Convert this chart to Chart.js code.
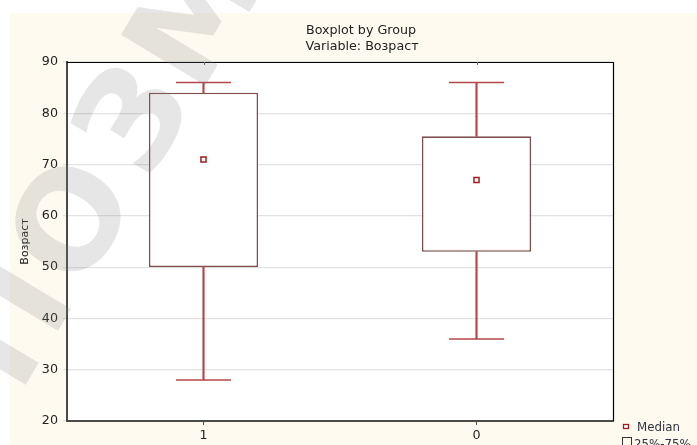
<!DOCTYPE html>
<html>
<head>
<meta charset="utf-8">
<script src="https://cdn.jsdelivr.net/npm/chart.js@4/dist/chart.umd.min.js"></script>
<style>
  html, body { margin: 0; padding: 0; background: #ffffff; }
  #wrap { width: 697px; height: 445px; }
</style>
</head>
<body>
<div id="wrap"><canvas id="chart" width="697" height="445"></canvas></div>
<script>
// Box plot of age by group
const groups = ['1', '0'];
const minValues = [28, 36];
const q1Values = [50, 53];
const medianValues = [71, 67];
const q3Values = [84, 75.5];
const maxValues = [86, 86];
const yTicks = [20, 30, 40, 50, 60, 70, 80, 90];

const titleLines = ['Boxplot by Group', 'Variable: Возраст'];
const yTitle = 'Возраст';
const legendItems = ['Median', '25%-75%', 'Min-Max'];
const watermark = ['П', 'О', 'З', 'М'];

const FONT = "'DejaVu Sans', sans-serif";
const BOX_EDGE = '#7f4e4e';
const WHISKER = '#b34848';
const MEDIAN = '#a31c1c';

const backdrop = {
  id: 'backdrop',
  beforeDraw(chart) {
    const { ctx, chartArea: a } = chart;
    ctx.save();
    ctx.fillStyle = '#ffffff';
    ctx.fillRect(0, 0, chart.width, chart.height);
    ctx.fillStyle = '#fefaf0';
    ctx.fillRect(10, 13, chart.width - 10, chart.height - 13);
    ctx.fillStyle = '#ffffff';
    ctx.fillRect(a.left, a.top, a.right - a.left, a.bottom - a.top);
    ctx.restore();
  },
  afterDraw(chart) {
    const { ctx, chartArea: a, scales } = chart;
    ctx.save();
    // frame: top and right edges
    ctx.strokeStyle = '#000000';
    ctx.lineWidth = 1.2;
    ctx.beginPath();
    ctx.moveTo(a.left, a.top + 0.5);
    ctx.lineTo(a.right + 0.5, a.top + 0.5);
    ctx.lineTo(a.right + 0.5, a.bottom);
    ctx.stroke();
    // small category marks along the top edge
    ctx.strokeStyle = '#666666';
    ctx.lineWidth = 1;
    groups.forEach((g, i) => {
      const x = Math.round(scales.x.getPixelForTick(i)) + 0.5;
      ctx.beginPath();
      ctx.moveTo(x, a.top);
      ctx.lineTo(x, a.top + 3);
      ctx.stroke();
    });

    // titles
    ctx.fillStyle = '#222222';
    ctx.font = '12.7px ' + FONT;
    ctx.textAlign = 'center';
    ctx.textBaseline = 'alphabetic';
    ctx.fillText(titleLines[0], 361, 34);
    ctx.fillText(titleLines[1], 362, 50);

    // legend
    ctx.font = '11.8px ' + FONT;
    ctx.textAlign = 'left';
    ctx.fillStyle = '#2f3340';
    ctx.fillText(legendItems[0], 637, 431);
    ctx.fillText(legendItems[1], 634, 448);
    ctx.fillText(legendItems[2], 634, 465);
    ctx.strokeStyle = MEDIAN;
    ctx.lineWidth = 1.3;
    ctx.fillStyle = '#ffffff';
    ctx.fillRect(623.5, 424.5, 5, 4);
    ctx.strokeRect(623.5, 424.5, 5, 4);
    ctx.strokeStyle = '#333333';
    ctx.lineWidth = 1;
    ctx.strokeRect(622.5, 437.5, 9, 9);

    // watermark
    ctx.fillStyle = 'rgba(130,130,130,0.2)';
    ctx.font = 'bold 135px ' + FONT;
    ctx.textAlign = 'center';
    ctx.textBaseline = 'middle';
    const ang = -59 * Math.PI / 180;
    const ox = 80, oy = 226, step = 120;
    watermark.forEach((ch, k) => {
      const d = (k - 1) * step;
      ctx.save();
      ctx.translate(ox + d * Math.cos(ang), oy + d * Math.sin(ang));
      ctx.rotate(ang);
      ctx.fillText(ch, 0, 0);
      ctx.restore();
    });
    ctx.restore();
  }
};

const barBase = { grouped: false, categoryPercentage: 1, borderSkipped: false };

new Chart(document.getElementById('chart'), {
  type: 'bar',
  data: {
    labels: groups,
    datasets: [
      {
        label: 'Median',
        type: 'line',
        data: medianValues,
        showLine: false,
        pointStyle: 'rect',
        pointRadius: 3.6,
        pointBackgroundColor: '#ffffff',
        pointBorderColor: MEDIAN,
        pointBorderWidth: 1.5,
        order: 0
      },
      {
        label: 'Max',
        type: 'line',
        data: maxValues,
        showLine: false,
        pointStyle: 'line',
        pointRadius: 27.5,
        pointBorderColor: WHISKER,
        pointBorderWidth: 1.5,
        order: 1
      },
      {
        label: 'Min',
        type: 'line',
        data: minValues,
        showLine: false,
        pointStyle: 'line',
        pointRadius: 27.5,
        pointBorderColor: WHISKER,
        pointBorderWidth: 1.5,
        order: 1
      },
      {
        ...barBase,
        label: 'Upper whisker',
        data: groups.map((g, i) => [q3Values[i], maxValues[i]]),
        backgroundColor: WHISKER,
        borderWidth: 0,
        barThickness: 1.5,
        order: 2
      },
      {
        ...barBase,
        label: 'Lower whisker',
        data: groups.map((g, i) => [minValues[i], q1Values[i]]),
        backgroundColor: WHISKER,
        borderWidth: 0,
        barThickness: 1.5,
        order: 2
      },
      {
        ...barBase,
        label: '25%-75%',
        data: groups.map((g, i) => [q1Values[i], q3Values[i]]),
        backgroundColor: '#ffffff',
        borderColor: BOX_EDGE,
        borderWidth: 1.6,
        barPercentage: 0.4,
        order: 3
      }
    ]
  },
  options: {
    responsive: false,
    animation: false,
    devicePixelRatio: 1,
    layout: { autoPadding: false, padding: { top: 62, right: 84, bottom: 0, left: 0 } },
    plugins: {
      legend: { display: false },
      tooltip: { enabled: false },
      title: { display: false }
    },
    scales: {
      x: {
        type: 'category',
        offset: true,
        afterFit(s) { s.height = 24; },
        grid: { display: true, offset: false, drawOnChartArea: false, tickLength: 4, color: '#555555' },
        border: { display: true, color: '#4a4a4a', width: 2 },
        ticks: { color: '#222222', padding: 3, font: { family: FONT, size: 12.7 } }
      },
      y: {
        min: 20,
        max: 90,
        afterFit(s) { s.width = 67; },
        afterBuildTicks(s) { s.ticks = yTicks.map(v => ({ value: v })); },
        grid: { color: '#e2e2e2', tickLength: 4, lineWidth: 1.2 },
        border: { display: true, color: '#4a4a4a', width: 2 },
        ticks: { color: '#222222', padding: 5, font: { family: FONT, size: 12.7 } },
        title: {
          display: true,
          text: yTitle,
          color: '#222222',
          font: { family: FONT, size: 11 },
          padding: { top: 19, bottom: 0 }
        }
      }
    }
  },
  plugins: [backdrop]
});
</script>
</body>
</html>
